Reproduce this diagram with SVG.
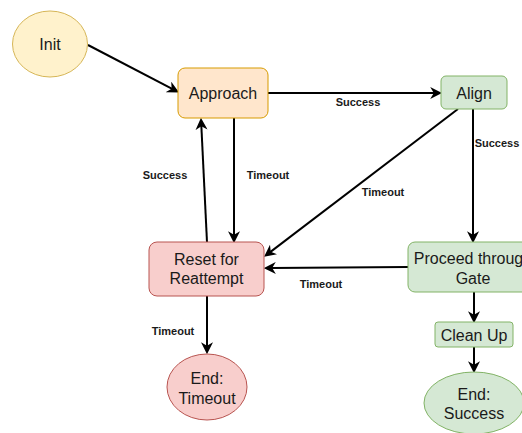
<svg xmlns="http://www.w3.org/2000/svg" width="522" height="433" viewBox="0 0 522 433">
<style>
.n{font-family:"Liberation Sans",Arial,sans-serif;font-size:16px;fill:#1a1a1a;text-anchor:middle;dominant-baseline:central}
.l{font-family:"Liberation Sans",Arial,sans-serif;font-size:11px;font-weight:bold;fill:#1a1a1a;text-anchor:middle;dominant-baseline:central}
.e{fill:none;stroke:#000;stroke-width:2;marker-end:url(#arr)}
.y{fill:#fff2cc;stroke:#d6b656}
.o{fill:#ffe6cc;stroke:#d79b00}
.g{fill:#d5e8d4;stroke:#82b366}
.r{fill:#f8cecc;stroke:#b85450}
</style>
<defs>
<marker id="arr" markerUnits="userSpaceOnUse" markerWidth="12" markerHeight="12" viewBox="0 0 10 10" refX="4" refY="5" orient="auto">
<path d="M0,0 L10,5 L0,10 L3,5 Z" fill="#000"/>
</marker>
</defs>
<rect width="522" height="433" fill="#fff"/>
<g id="edges">
<path class="e" d="M88,45 L172.7,89.2"/>
<path class="e" d="M268,93 L435,93"/>
<path class="e" d="M458,109 L269.8,252.4"/>
<path class="e" d="M473,109 L473,236"/>
<path class="e" d="M234,118 L234,236"/>
<path class="e" d="M207,242 L201.3,125"/>
<path class="e" d="M408,267 L271,268"/>
<path class="e" d="M207,296 L207,347"/>
<path class="e" d="M474,292 L474,316"/>
<path class="e" d="M474,347 L474,366"/>
<text class="l" x="358" y="102">Success</text>
<text class="l" x="383" y="192">Timeout</text>
<text class="l" x="497" y="143">Success</text>
<text class="l" x="268" y="175">Timeout</text>
<text class="l" x="165" y="175">Success</text>
<text class="l" x="321" y="284">Timeout</text>
<text class="l" x="173" y="331">Timeout</text>
</g>
<g id="init"><ellipse class="y" cx="50" cy="44" rx="37.5" ry="33"/><text class="n" x="50" y="44">Init</text></g>
<g id="approach"><rect class="o" x="178" y="68" width="90" height="50" rx="7"/><text class="n" x="223" y="93">Approach</text></g>
<g id="align"><rect class="g" x="441" y="76" width="66" height="33" rx="5"/><text class="n" x="474" y="93">Align</text></g>
<g id="reset"><rect class="r" x="149" y="242" width="115" height="54" rx="8"/><text class="n" x="206.5" y="259">Reset for</text><text class="n" x="206.5" y="278">Reattempt</text></g>
<g id="proceed"><rect class="g" x="408" y="242" width="130" height="50" rx="7"/><text class="n" x="473" y="258">Proceed through</text><text class="n" x="473" y="278">Gate</text></g>
<g id="cleanup"><rect class="g" x="435" y="322" width="78" height="25" rx="3"/><text class="n" x="474" y="335">Clean Up</text></g>
<g id="endsuccess"><ellipse class="g" cx="474" cy="403" rx="50" ry="31"/><text class="n" x="474" y="394">End:</text><text class="n" x="474" y="413">Success</text></g>
<g id="endtimeout"><ellipse class="r" cx="207" cy="387" rx="40" ry="33"/><text class="n" x="207" y="378">End:</text><text class="n" x="207" y="398">Timeout</text></g>
</svg>
